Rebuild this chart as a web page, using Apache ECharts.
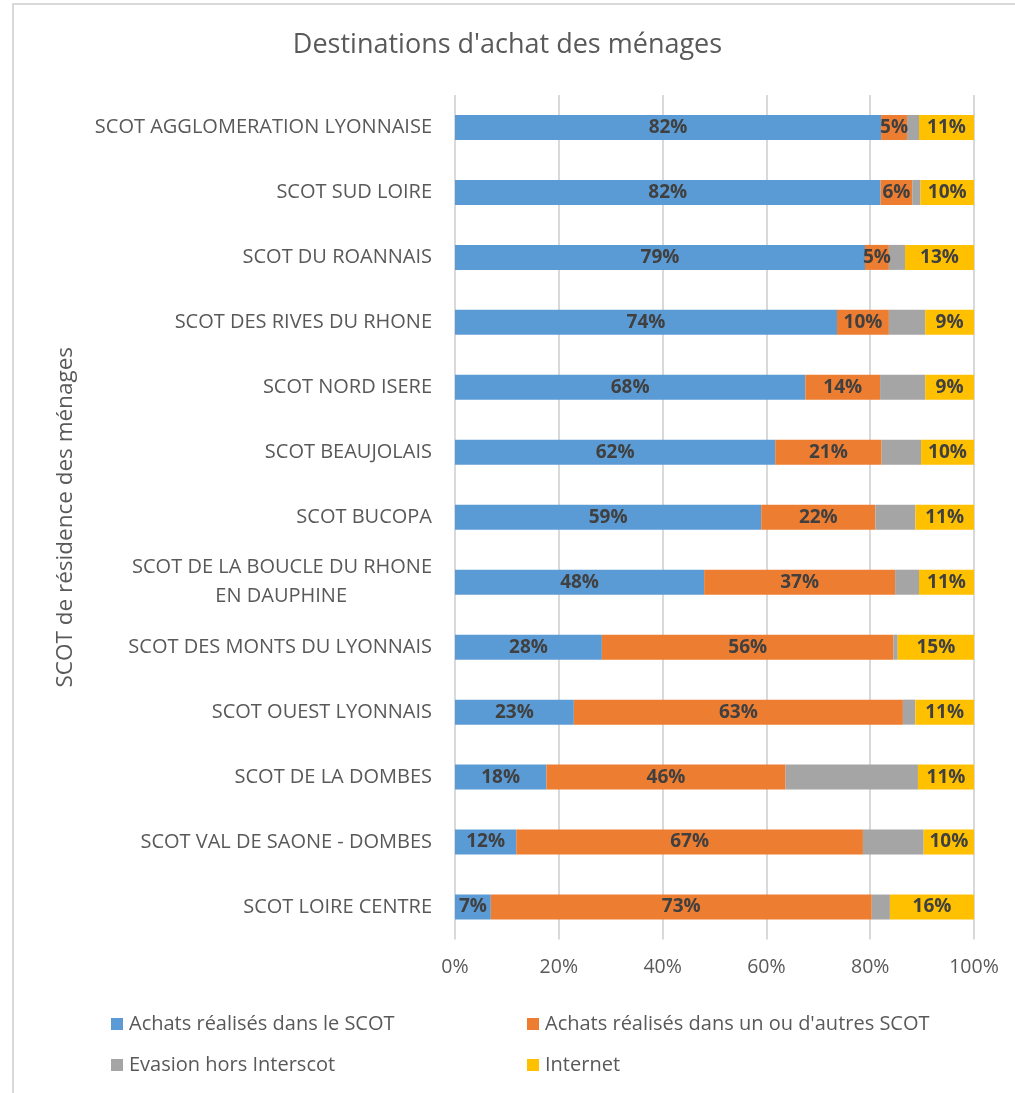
<!DOCTYPE html>
<html>
<head>
<meta charset="utf-8">
<title>Destinations d'achat des ménages</title>
<script src="https://cdn.jsdelivr.net/npm/echarts@6/dist/echarts.min.js"></script>
<style>
  html, body { margin: 0; padding: 0; background: #ffffff; }
  #chart { width: 1015px; height: 1093px; }
</style>
</head>
<body>
<div id="chart"></div>
<script>
// SCOT of residence (top to bottom)
const categories = [
  'SCOT AGGLOMERATION LYONNAISE',
  'SCOT SUD LOIRE',
  'SCOT DU ROANNAIS',
  'SCOT DES RIVES DU RHONE',
  'SCOT NORD ISERE',
  'SCOT BEAUJOLAIS',
  'SCOT BUCOPA',
  'SCOT DE LA BOUCLE DU RHONE\nEN DAUPHINE',
  'SCOT DES MONTS DU LYONNAIS',
  'SCOT OUEST LYONNAIS',
  'SCOT DE LA DOMBES',
  'SCOT VAL DE SAONE - DOMBES',
  'SCOT LOIRE CENTRE'
];

// Share of household purchases (%)
const achatsDansScot   = [82.1, 82.0, 79.0, 73.6, 67.5, 61.7, 59.0, 48.0, 28.3, 22.9, 17.6, 11.8, 6.9];
const achatsAutresScot = [5.0, 6.1, 4.6, 10.0, 14.4, 20.5, 22.0, 36.8, 56.2, 63.4, 46.1, 66.8, 73.4];
const evasionHors      = [2.3, 1.6, 3.1, 7.0, 8.7, 7.6, 7.7, 4.6, 0.8, 2.4, 25.5, 11.7, 3.5];
const internet         = [10.6, 10.3, 13.3, 9.4, 9.4, 10.2, 11.3, 10.6, 14.7, 11.3, 10.8, 9.7, 16.2];

const seriesNames = [
  'Achats réalisés dans le SCOT',
  "Achats réalisés dans un ou d'autres SCOT",
  'Evasion hors Interscot',
  'Internet'
];
const xTicks = [0, 20, 40, 60, 80, 100];

const FONT = '"Open Sans", Lato, sans-serif';
const TEXT = '#595959';

const chart = echarts.init(document.getElementById('chart'), null, { renderer: 'canvas' });

function barSeries(name, data, color, showLabel) {
  return {
    name: name,
    type: 'bar',
    stack: 'total',
    barWidth: 25,
    data: data,
    itemStyle: { color: color },
    label: {
      show: showLabel,
      position: 'inside',
      formatter: p => Math.round(p.value) + '%',
      color: '#404040',
      fontWeight: 'bold',
      fontSize: 19,
      fontFamily: FONT
    },
    emphasis: { disabled: true }
  };
}

chart.setOption({
  animation: false,
  backgroundColor: '#ffffff',
  graphic: [{
    type: 'rect',
    shape: { x: 13, y: 4, width: 1100, height: 1200 },
    style: { fill: 'none', stroke: '#d9d9d9', lineWidth: 2 },
    silent: true,
    z: -10
  }],
  title: {
    text: "Destinations d'achat des ménages",
    left: 'center',
    top: 27,
    textStyle: { fontSize: 27, fontWeight: 'normal', color: TEXT, fontFamily: FONT }
  },
  legend: [{
    data: [seriesNames[0], seriesNames[2]],
    orient: 'vertical',
    left: 106,
    top: 1009,
    itemWidth: 12,
    itemHeight: 12,
    itemGap: 21,
    icon: 'rect',
    textStyle: { fontSize: 20, color: TEXT, fontFamily: FONT, padding: [0, 0, 0, 1] }
  }, {
    data: [seriesNames[1], seriesNames[3]],
    orient: 'vertical',
    left: 522,
    top: 1009,
    itemWidth: 12,
    itemHeight: 12,
    itemGap: 21,
    icon: 'rect',
    textStyle: { fontSize: 20, color: TEXT, fontFamily: FONT, padding: [0, 0, 0, 1] }
  }],
  grid: { left: 455, right: 41, top: 95, bottom: 153.5 },
  xAxis: {
    type: 'value',
    min: 0,
    max: 100,
    interval: 20,
    axisLabel: {
      formatter: v => xTicks.includes(v) ? v + '%' : '',
      color: TEXT,
      fontSize: 19.5,
      fontFamily: FONT,
      margin: 18
    },
    axisLine: { show: false },
    axisTick: { show: false },
    splitLine: { show: true, lineStyle: { color: '#d9d9d9', width: 2 } }
  },
  yAxis: {
    type: 'category',
    inverse: true,
    data: categories,
    name: 'SCOT de résidence des ménages',
    nameLocation: 'middle',
    nameGap: 378,
    nameTextStyle: { fontSize: 22.5, color: TEXT, fontFamily: FONT },
    axisLine: { show: false },
    axisTick: { show: false },
    axisLabel: {
      color: TEXT,
      fontSize: 20,
      fontFamily: FONT,
      margin: 23,
      lineHeight: 29,
      formatter: function (v) {
        const parts = v.split('\n');
        if (parts.length === 1) return v;
        return '{a|' + parts[0] + '}\n{b|' + parts[1] + '}';
      },
      rich: {
        a: { fontSize: 20, color: TEXT, fontFamily: FONT, lineHeight: 29 },
        b: { fontSize: 20, color: TEXT, fontFamily: FONT, lineHeight: 29, padding: [0, 85, 0, 0] }
      }
    },
    splitLine: { show: false }
  },
  series: [
    barSeries(seriesNames[0], achatsDansScot, '#5B9BD5', true),
    barSeries(seriesNames[1], achatsAutresScot, '#ED7D31', true),
    barSeries(seriesNames[2], evasionHors, '#A5A5A5', false),
    barSeries(seriesNames[3], internet, '#FFC000', true)
  ]
});
</script>
</body>
</html>
